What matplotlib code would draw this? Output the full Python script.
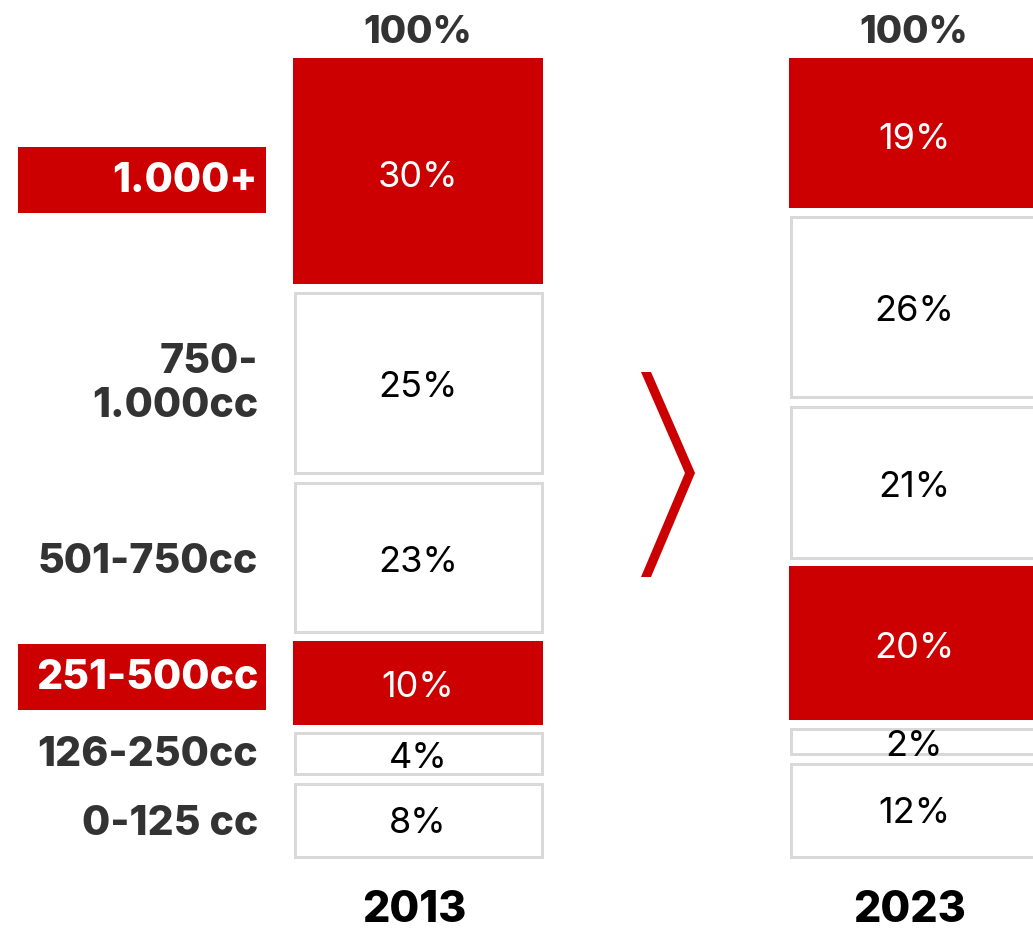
import matplotlib
matplotlib.use("Agg")
import matplotlib.pyplot as plt
from matplotlib.patches import Rectangle, Polygon

# ---------------- data ----------------
categories = ["0-125 cc", "126-250cc", "251-500cc", "501-750cc", "750-\n1.000cc", "1.000+"]
years = ["2013", "2023"]
labels_2013 = ["8%", "4%", "10%", "23%", "25%", "30%"]
labels_2023 = ["12%", "2%", "20%", "21%", "26%", "19%"]
# displayed segment heights (share of column)
heights_2013 = [9.9, 6.3, 11.4, 19.9, 23.8, 28.7]
heights_2023 = [12.4, 4.4, 20.1, 20.1, 23.8, 19.2]
highlight = [False, False, True, False, False, True]
total_label = "100%"

RED = "#cc0000"
GRAY = "#d9d9d9"
DARK = "#333333"

W, H = 1033, 932
fig = plt.figure(figsize=(W / 100, H / 100), dpi=100)
ax = fig.add_axes([0, 0, 1, 1])
# pixel scale: 8 px per percentage unit, zero at pixel row 858
PX = 8.0
Y0 = 858
ax.set_xlim(0, W)
ax.set_ylim((Y0 - H) / PX, Y0 / PX)
ax.axis("off")

def py(p):
    return (Y0 - p) / PX

gap = 7 / PX / 2
lw_px = 3
lw_pt = lw_px * 72 / 100

def draw_column(xc, heights, labels):
    width = 250
    left = xc - width / 2
    bottom = 0.0
    centers = []
    n = len(heights)
    for i, (h, lab, hl) in enumerate(zip(heights, labels, highlight)):
        b = bottom + (gap if i > 0 else 0)
        t = bottom + h - (gap if i < n - 1 else 0)
        if hl:
            ax.add_patch(Rectangle((left, b), width, t - b, facecolor=RED,
                                   edgecolor="none", zorder=2))
            col = "white"
        else:
            inset_x = lw_px / 2
            inset_y = lw_px / 2 / PX
            ax.add_patch(Rectangle((left + inset_x, b + inset_y), width - 2 * inset_x,
                                   t - b - 2 * inset_y, facecolor="white",
                                   edgecolor=GRAY, linewidth=lw_pt, zorder=2))
            col = "black"
        c = bottom + h / 2
        centers.append(c)
        ax.text(xc, c - 5 / PX, lab, ha="center", va="center", color=col,
                fontsize=26, family="Inter", fontweight="normal", zorder=3)
        bottom += h
    ax.text(xc, py(33), total_label, ha="center", va="center", color=DARK,
            fontsize=27.5, family="Inter", fontweight="heavy")
    return centers

x_cols = [418, 914]
centers = draw_column(x_cols[0], heights_2013, labels_2013)
draw_column(x_cols[1], heights_2023, labels_2023)

for xc, yr in zip(x_cols, years):
    ax.text(xc - 4, py(911), yr, ha="center", va="center", color="black",
            fontsize=31, family="Inter", fontweight="heavy")

# category labels (small vertical nudges in px, positive = down)
nudges = [5, 0, -6, 3, 0, 7]
for c, cat, hl, nd in zip(centers, categories, highlight, nudges):
    yc = c - nd / PX
    if hl:
        bh = 66 / PX
        ax.add_patch(Rectangle((18, yc - bh / 2), 248, bh, facecolor=RED,
                               edgecolor="none", zorder=2))
        col = "white"
    else:
        col = DARK
    ax.text(258, yc - 1 / PX, cat, ha="right", va="center", color=col, fontsize=29.5,
            family="Inter", fontweight="heavy", multialignment="right",
            linespacing=1.2, zorder=3)

# chevron
chev = [(641, 372), (651, 372), (695, 473), (651, 577), (641, 577), (685, 473)]
ax.add_patch(Polygon([(x, py(y)) for x, y in chev], closed=True,
                     facecolor=RED, edgecolor="none"))

fig.savefig("out.png", dpi=100)
